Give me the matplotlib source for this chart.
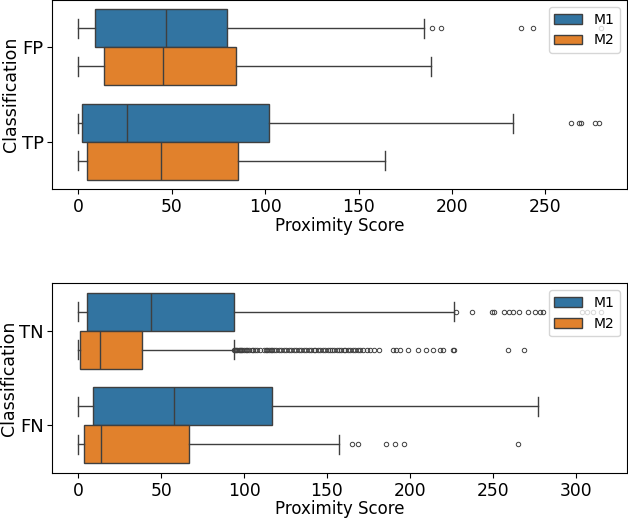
import numpy as np
import matplotlib
matplotlib.use('Agg')
from matplotlib import pyplot as plt
from matplotlib.patches import Patch

models = ['M1', 'M2']
colors = ['#3274a1', '#e1812c']
edge = '#3f3f3f'

# top panel
cats_top = ['FP', 'TP']
# per category, per model: whislo, q1, med, q3, whishi
top_stats = {
    'FP': {'M1': [0, 8.7, 46.8, 79.6, 185.0], 'M2': [0, 13.9, 45.5, 84.3, 188.8]},
    'TP': {'M1': [0, 2.1, 26.1, 102.3, 232.6], 'M2': [0, 4.5, 44.5, 85.7, 164.2]},
}
top_fliers = {
    'FP': {'M1': [189.3, 194.0, 236.7, 243.5, 279.5], 'M2': []},
    'TP': {'M1': [263.5, 267.8, 269.2, 276.3, 278.6], 'M2': []},
}

# bottom panel
cats_bot = ['TN', 'FN']
bot_stats = {
    'TN': {'M1': [0, 5.0, 43.6, 94.0, 226.4], 'M2': [0, 1.2, 12.9, 38.2, 94.0]},
    'FN': {'M1': [0, 8.8, 57.8, 117.0, 277.1], 'M2': [0, 3.6, 13.9, 66.9, 157.0]},
}
bot_fliers = {
    'TN': {'M1': [227.8, 237.2, 249.5, 251.0, 257.0, 259.5, 262.0, 265.5, 271.5,
                  275.5, 278.5, 280.5, 303.5, 306.5, 310.5, 315.0],
           'M2': [93.8, 94.5, 95.2, 96.0, 96.8, 97.5, 98.3, 99.0, 100.0, 101.0, 102.0,
                  103.0, 104.5, 105.5, 106.5, 108.0, 109.5,
                  112.0, 113.0, 114.0, 115.0, 116.0, 117.0, 118.0, 119.5, 121.0, 122.5,
                  124.0, 125.5, 127.0, 128.5, 130.0, 131.5, 133.0, 134.5, 136.0, 137.5,
                  139.0, 140.5, 142.0, 143.0, 144.5, 146.0, 147.5, 149.0, 150.5, 152.0,
                  153.0, 154.5, 156.0, 157.0, 158.5, 160.0, 161.0, 162.5, 164.0, 165.5,
                  167.0, 168.5, 170.0, 172.0, 174.0, 176.0, 178.5, 181.5,
                  189.8, 191.8, 193.8, 198.8, 204.8, 209.9, 213.9, 217.9, 219.9,
                  225.8, 226.6, 259.2, 268.5]},
    'FN': {'M1': [],
           'M2': [165.0, 168.7, 185.7, 190.8, 196.2, 265.1]},
}


def draw_panel(ax, cats, stats, fliers):
    for i, m in enumerate(models):
        bxs = []
        for c in cats:
            s = stats[c][m]
            bxs.append({'whislo': s[0], 'q1': s[1], 'med': s[2], 'q3': s[3],
                        'whishi': s[4], 'fliers': fliers[c][m]})
        pos = np.arange(len(cats)) + (i - 0.5) * 0.4
        ax.bxp(bxs, positions=pos, widths=0.4, orientation='horizontal',
               patch_artist=True, manage_ticks=False,
               boxprops=dict(facecolor=colors[i], edgecolor=edge, linewidth=1.0),
               medianprops=dict(color=edge, linewidth=1.0),
               whiskerprops=dict(color=edge, linewidth=1.0),
               capprops=dict(color=edge, linewidth=1.0),
               capwidths=0.2,
               flierprops=dict(marker='o', markerfacecolor='none',
                               markeredgecolor=edge, markersize=3.2,
                               markeredgewidth=0.7))
    ax.set_yticks(np.arange(len(cats)))
    ax.set_yticklabels(cats)
    ax.set_ylim(len(cats) - 0.5, -0.5)
    ax.set_xlabel('Proximity Score', fontsize=12, labelpad=0.5)
    ax.set_ylabel('Classification', fontsize=12.5, labelpad=1)
    ax.tick_params(axis='x', labelsize=12.3, pad=3)
    ax.tick_params(axis='y', labelsize=13, pad=2.5)
    handles = [Patch(facecolor=colors[k], edgecolor=edge, label=models[k]) for k in range(2)]
    ax.legend(handles=handles, loc='upper right', fontsize=10)


fig = plt.figure(figsize=(6.28, 5.18), dpi=100)
ax1 = fig.add_axes([0.083, 0.6345, 0.915, 0.3655])
ax2 = fig.add_axes([0.083, 0.0875, 0.915, 0.3655])
draw_panel(ax1, cats_top, top_stats, top_fliers)
draw_panel(ax2, cats_bot, bot_stats, bot_fliers)
ax1.set_xticks([0, 50, 100, 150, 200, 250])
ax2.set_xticks([0, 50, 100, 150, 200, 250, 300])

fig.savefig('out.png', dpi=100)
